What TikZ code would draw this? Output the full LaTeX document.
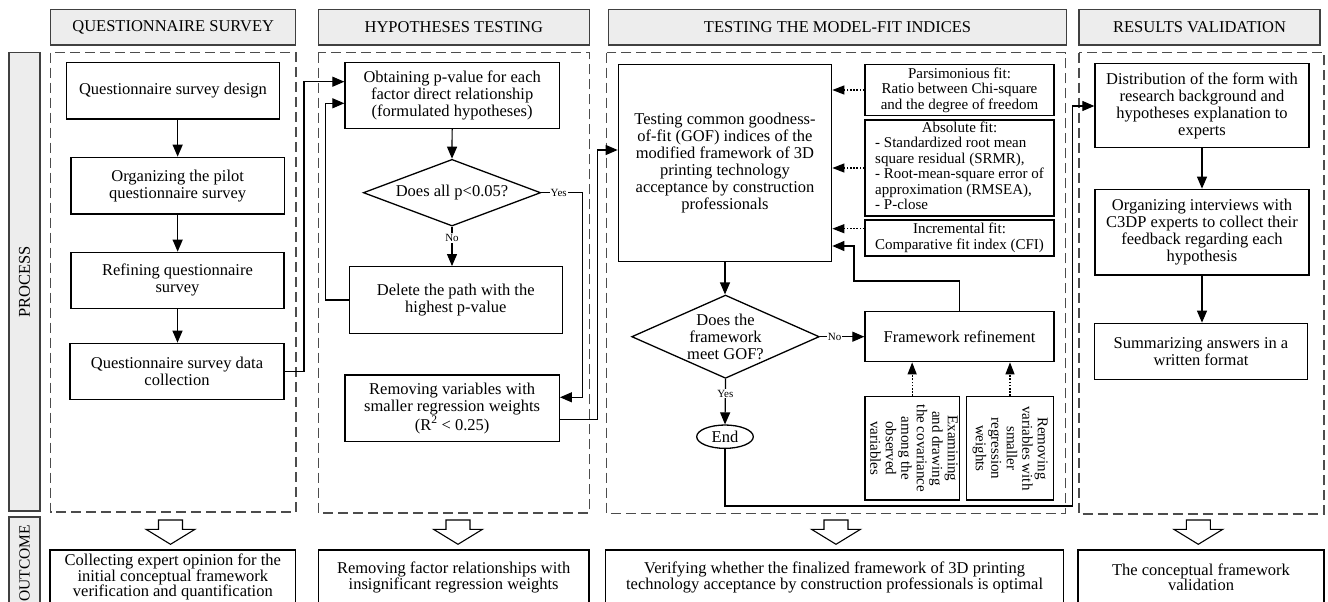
\documentclass[tikz,border=0pt]{standalone}
\usepackage{fontspec}
\setmainfont{Liberation Serif}
\usetikzlibrary{arrows.meta,shapes.geometric}
\newcommand\fmain{\fontsize{16.5}{17}\selectfont}
\newcommand\fsmall{\fontsize{15}{15.5}\selectfont}
\newcommand\flbl{\fontsize{11}{11}\selectfont}
\newcommand\fout{\fontsize{16.5}{15.5}\selectfont}
\begin{document}
\begin{tikzpicture}[x=1pt,y=-1pt,
  sz/.style 2 args={minimum width=#1pt, minimum height=#2pt},
  box/.style={draw, line width=1.3pt, fill=white, align=center, inner sep=0pt, font=\fmain},
  sbox/.style={box, font=\fsmall},
  hdr/.style={draw=black!75, fill=black!7, line width=1.1pt, inner sep=0pt, font=\fmain},
  dbox/.style={draw=black!70, dash pattern=on 10pt off 5pt, line width=1.4pt},
  dmd/.style={box, diamond, aspect=#1},
  arr/.style={draw, line width=1.2pt, -{Triangle[length=12pt,width=10pt]}},
  darr/.style={draw, line width=1.2pt, dash pattern=on 1.6pt off 1.6pt, -{Triangle[length=12pt,width=9pt]}},
  lbl/.style={font=\flbl, fill=white, inner sep=1pt},
  outbox/.style={box, font=\fout},
  bigarrow/.pic={\draw[fill=white, line width=1.1pt] (-12,0) -- (12,0) -- (12,9.3) -- (24.5,9.3) -- (0,24.3) -- (-24.5,9.3) -- (-12,9.3) -- cycle;}
]
\useasboundingbox (0,0) rectangle (1328,602);
\clip (0,0) rectangle (1328,602);
\fill[white] (0,0) rectangle (1328,602);

% dashed containers
\draw[dbox] (50.7,52.7) rectangle (296,512);
\draw[dbox] (318.3,52.7) rectangle (589.3,513);
\draw[dbox] (606.7,52.7) rectangle (1065.7,513.5);
\draw[dbox] (1079,52.7) rectangle (1324,514);

% headers
\node[hdr, sz={245}{35.7}] (t1) at (173.2,27.15) {QUESTIONNAIRE SURVEY};
\node[hdr, sz={271}{35.7}] (t2) at (453.8,27.15) {HYPOTHESES TESTING};
\node[hdr, sz={458.4}{35.7}] (t3) at (837.5,27.15) {TESTING THE MODEL-FIT INDICES};
\node[hdr, sz={241}{35.7}] (t4) at (1199.5,27.15) {RESULTS VALIDATION};
\node[hdr, sz={31}{458.3}] (lp) at (24.5,281.85) {\rotatebox{90}{PROCESS}};
\node[hdr, sz={31}{93}] (lo) at (24.5,563.5) {\fontsize{15.5}{15.5}\selectfont\rotatebox{90}{OUTCOME}};

% column 1
\node[box, sz={212.6}{56.3}] (q1) at (173,90.85) {Questionnaire survey design};
\node[box, sz={213.3}{56.7}] (q2) at (177.65,185.65) {Organizing the pilot\\questionnaire survey};
\node[box, sz={213}{56}] (q3) at (177.5,280.3) {Refining questionnaire\\survey};
\node[box, sz={214}{56}] (q4) at (177,371.3) {Questionnaire survey data\\collection};

% column 2
\node[box, sz={214.3}{65.6}] (h1) at (452.15,95.5) {Obtaining p-value for each\\factor direct relationship\\(formulated hypotheses)};
\node[dmd=2.66, sz={177.4}{66.7}] (d1) at (452,192.7) {Does all p<0.05?};
\node[box, sz={213}{66.6}] (h2) at (455.8,300) {Delete the path with the\\highest p-value};
\node[box, sz={214.3}{66.7}] (h3) at (452.15,408.35) {Removing variables with\\smaller regression weights\\(R\textsuperscript{2} < 0.25)};

% column 3
\node[box, sz={213.4}{197.4}] (g1) at (725,163) {Testing common goodness-\\of-fit (GOF) indices of the\\modified framework of 3D\\printing technology\\acceptance by construction\\professionals};
\node[sbox, sz={189}{51.4}] (p1) at (959.5,90) {Parsimonious fit:\\Ratio between Chi-square\\and the degree of freedom};
\node[sbox, sz={189}{96}] (p2) at (959.5,168) {\begin{tabular}{@{}l@{}}\multicolumn{1}{@{}c@{}}{Absolute fit:}\\- Standardized root mean\\square residual (SRMR),\\- Root-mean-square error of\\approximation (RMSEA),\\- P-close\end{tabular}};
\node[sbox, sz={189}{36}] (p3) at (959.5,238) {Incremental fit:\\Comparative fit index (CFI)};
\node[dmd=2.25, sz={187.6}{83.3}] (d2) at (725.5,336.7) {Does the\\framework\\meet GOF?};
\node[box, sz={189}{50}] (f1) at (959.5,336.7) {Framework refinement};
\node[box, ellipse, sz={56.6}{23.3}] (e1) at (725,436.7) {End};
\node[sbox, sz={94.3}{103.3}] (r1) at (912.15,448.35) {\rotatebox{-90}{\begin{tabular}{@{}c@{}}Examining\\and drawing\\the covariance\\among the\\observed\\variables\end{tabular}}};
\node[sbox, sz={86.6}{103.3}] (r2) at (1010,448.35) {\rotatebox{-90}{\begin{tabular}{@{}c@{}}Removing\\variables with\\smaller\\regression\\weights\end{tabular}}};

% column 4
\node[box, sz={214}{84.4}] (v1) at (1202,105.5) {Distribution of the form with\\research background and\\hypotheses explanation to\\experts};
\node[box, sz={214}{85.7}] (v2) at (1202,232.15) {Organizing interviews with\\C3DP experts to collect their\\feedback regarding each\\hypothesis};
\node[box, sz={213.4}{56}] (v3) at (1201,351.3) {Summarizing answers in a\\written format};

% outcome boxes
\node[outbox, sz={245.7}{54.5}] (o1) at (172.85,577.25) {Collecting expert opinion for the\\initial conceptual framework\\verification and quantification};
\node[outbox, sz={270.7}{54.5}] (o2) at (453.65,577.25) {Removing factor relationships with\\insignificant regression weights};
\node[outbox, sz={458}{54.5}] (o3) at (834.6,577.25) {Verifying whether the finalized framework of 3D printing\\technology acceptance by construction professionals is optimal};
\node[outbox, sz={246}{54.5}] (o4) at (1201,577.25) {The conceptual framework\\validation};

% outcome arrows
\pic at (170.5,520) {bigarrow};
\pic at (458,520) {bigarrow};
\pic at (836,520) {bigarrow};
\pic at (1198.3,520) {bigarrow};

% bend coordinates
\coordinate (kA) at (304,81.7);
\coordinate (kB) at (325.7,103.3);
\coordinate (kC) at (582.7,397.3);
\coordinate (kD1) at (597.7,419.3);
\coordinate (kD2) at (597.7,150);
\coordinate (kE1) at (854,281);
\coordinate (kE2) at (854,246);
\coordinate (kF1) at (1072.3,506);
\coordinate (kF2) at (1072.3,106);
\coordinate (kP3) at (0,228.7);

% column 1 connectors
\draw[arr] (q2.north |- q1.south) -- (q2.north);
\draw[arr] (q2.south) -- (q2.south |- q3.north);
\draw[arr] (q3.south) -- (q3.south |- q4.north);
\draw[arr] (q4.east) -| (kA) -- (kA -| h1.west);

% column 2 connectors
\draw[arr] (h1.south) -- (d1.north);
\draw[arr] (d1.south) -- node[lbl, pos=.29] {No} (d1.south |- h2.north);
\draw[arr] (d1.east) -- node[lbl, pos=.42] {Yes} (d1.east -| kC) -- (kC) -- (kC -| h3.east);
\draw[arr] (h2.west) -| (kB) -- (kB -| h1.west);
\draw[arr] (kD1 -| h3.east) -- (kD1) -- (kD2) -- (kD2 -| g1.west);

% column 3 connectors
\draw[darr] (p1.west) -- (p1.west -| g1.east);
\draw[darr] (p2.west) -- (p2.west -| g1.east);
\draw[darr] (p3.west |- kP3) -- (g1.east |- kP3);
\draw[arr] (g1.south) -- (g1.south |- d2.north);
\draw[arr] (d2.east) -- node[lbl, pos=.33] {No} (f1.west);
\draw[arr] (d2.south) -- node[lbl, pos=.32] {Yes} (e1.north);
\draw[darr] (r1.north) -- (r1.north |- f1.south);
\draw[darr] (r2.north) -- (r2.north |- f1.south);
\draw[arr] (f1.north) |- (kE1) -- (kE2) -- (kE2 -| g1.east);
\draw[arr] (e1.south) |- (kF1) -- (kF2) -- (kF2 -| v1.west);

% column 4 connectors
\draw[arr] (v1.south) -- (v1.south |- v2.north);
\draw[arr] (v2.south) -- (v2.south |- v3.north);
\end{tikzpicture}
\end{document}
